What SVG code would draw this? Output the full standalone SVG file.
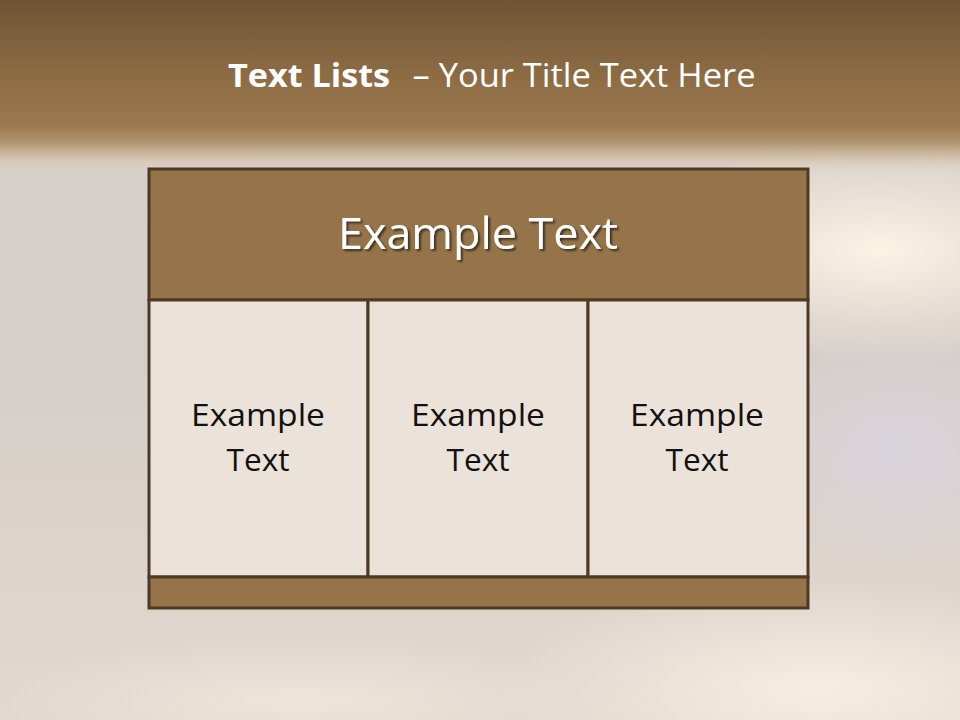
<svg xmlns="http://www.w3.org/2000/svg" width="960" height="720" viewBox="0 0 960 720">
<defs>
<linearGradient id="bg" x1="0" y1="0" x2="0" y2="1">
<stop offset="0" stop-color="#d8d0cb"/>
<stop offset="0.5" stop-color="#d6cec9"/>
<stop offset="1" stop-color="#e2d8cf"/>
</linearGradient>
<linearGradient id="top" x1="0" y1="0" x2="0" y2="1">
<stop offset="0" stop-color="#6e5434"/>
<stop offset="0.45" stop-color="#8e6d45"/>
<stop offset="0.72" stop-color="#9c7a4f"/>
<stop offset="0.82" stop-color="#b29774"/>
<stop offset="0.92" stop-color="#d6c7b3" stop-opacity="0.8"/>
<stop offset="1" stop-color="#e0d6cb" stop-opacity="0"/>
</linearGradient>
<radialGradient id="glowR" cx="0.5" cy="0.5" r="0.5">
<stop offset="0" stop-color="#fbf3e4" stop-opacity="1"/>
<stop offset="1" stop-color="#fbf3e4" stop-opacity="0"/>
</radialGradient>
<radialGradient id="glowB" cx="0.5" cy="0.5" r="0.5">
<stop offset="0" stop-color="#f7ede2" stop-opacity="1"/>
<stop offset="1" stop-color="#f7ede2" stop-opacity="0"/>
</radialGradient>
<radialGradient id="lav" cx="0.5" cy="0.5" r="0.5">
<stop offset="0" stop-color="#d9d4dc" stop-opacity="1"/>
<stop offset="1" stop-color="#d9d4dc" stop-opacity="0"/>
</radialGradient>
<filter id="sh" x="-10%" y="-20%" width="120%" height="140%">
<feGaussianBlur in="SourceAlpha" stdDeviation="1.2"/>
<feOffset dx="1.5" dy="2" result="o"/>
<feComponentTransfer><feFuncA type="linear" slope="0.6"/></feComponentTransfer>
<feMerge><feMergeNode/><feMergeNode in="SourceGraphic"/></feMerge>
</filter>
</defs>
<style>
.box{stroke:#4e3a23;stroke-width:3}
.head{fill:#967449}
.cell{fill:#ebe3d9}
.t{font-family:"Open Sans","Liberation Sans",sans-serif;text-anchor:middle}
.ct{font-size:31px;fill:#111111}
</style>
<rect x="0" y="0" width="960" height="720" fill="url(#bg)"/>
<ellipse cx="880" cy="250" rx="260" ry="110" fill="url(#glowR)"/>
<ellipse cx="820" cy="690" rx="320" ry="110" fill="url(#glowB)"/>
<ellipse cx="900" cy="450" rx="160" ry="120" fill="url(#lav)"/>
<ellipse cx="300" cy="700" rx="300" ry="60" fill="url(#glowB)" opacity="0.6"/>
<rect x="0" y="0" width="960" height="175" fill="url(#top)"/>

<g id="title">
<text x="309" y="87" class="t" font-size="32" font-weight="bold" fill="#ffffff" textLength="162" lengthAdjust="spacingAndGlyphs">Text Lists</text>
<text x="584" y="87" class="t" font-size="32" fill="#ffffff" textLength="343" lengthAdjust="spacingAndGlyphs">– Your Title Text Here</text>
</g>

<g id="header">
<rect x="149" y="169" width="659" height="131" class="box head"/>
<text x="478" y="249" class="t" font-size="43" fill="#ffffff" filter="url(#sh)" textLength="280" lengthAdjust="spacingAndGlyphs">Example Text</text>
</g>
<g id="cell1">
<rect x="149" y="300" width="219" height="277" class="box cell"/>
<text x="258" y="426" class="t ct" textLength="134" lengthAdjust="spacingAndGlyphs">Example</text>
<text x="258" y="471" class="t ct" textLength="63" lengthAdjust="spacingAndGlyphs">Text</text>
</g>
<g id="cell2">
<rect x="368" y="300" width="220" height="277" class="box cell"/>
<text x="478" y="426" class="t ct" textLength="134" lengthAdjust="spacingAndGlyphs">Example</text>
<text x="478" y="471" class="t ct" textLength="63" lengthAdjust="spacingAndGlyphs">Text</text>
</g>
<g id="cell3">
<rect x="588" y="300" width="220" height="277" class="box cell"/>
<text x="697" y="426" class="t ct" textLength="134" lengthAdjust="spacingAndGlyphs">Example</text>
<text x="697" y="471" class="t ct" textLength="63" lengthAdjust="spacingAndGlyphs">Text</text>
</g>
<g id="footer">
<rect x="149" y="577" width="659" height="31" class="box head"/>
</g>
<g id="connectors"/>
</svg>
